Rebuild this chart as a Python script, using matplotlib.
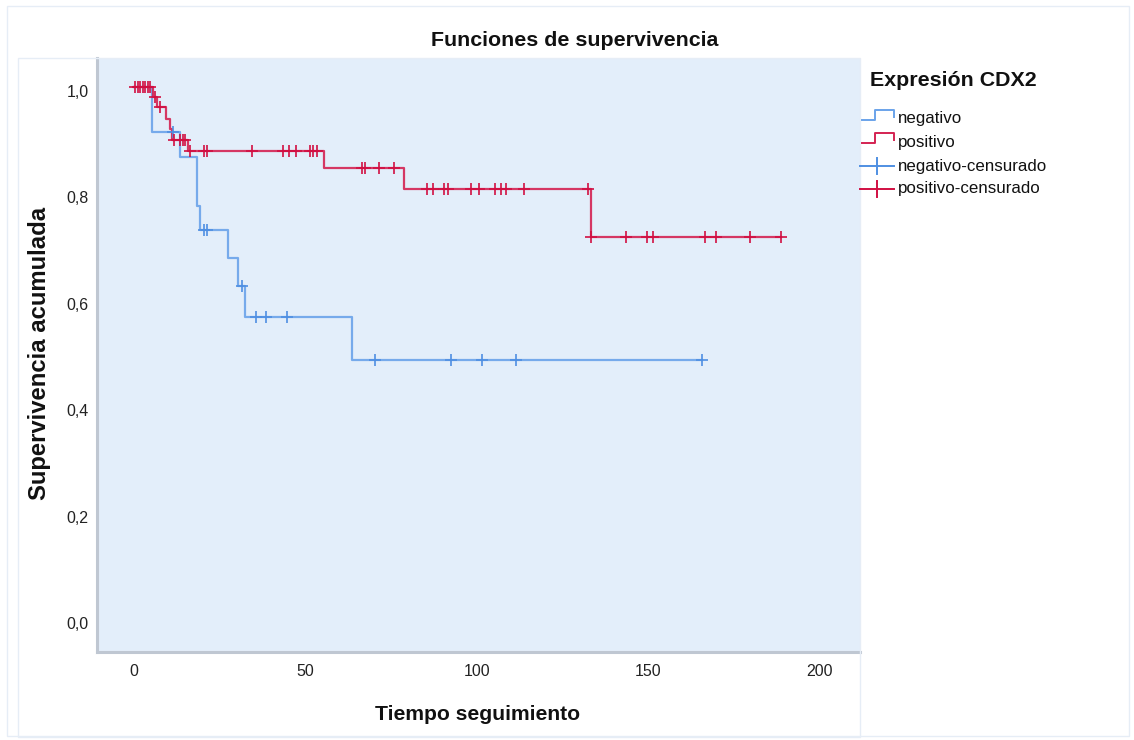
import numpy as np
import matplotlib
matplotlib.use("Agg")
import matplotlib.pyplot as plt
from matplotlib.lines import Line2D
from matplotlib.patches import Rectangle
import matplotlib.transforms as mtransforms

# Kaplan-Meier steps
neg_times = [0, 5.3, 13.4, 18.5, 19.3, 27.5, 30.4, 32.4, 63.6]
neg_surv = [1.0, 0.915, 0.868, 0.776, 0.731, 0.678, 0.626, 0.568, 0.487]
neg_end = 165.5
neg_cens = [11.5, 20.4, 21.2, 31.4, 35.6, 38.5, 44.6, 70.4, 92.5, 101.5, 111.4, 165.5]

pos_times = [0, 5.6, 6.8, 9.4, 10.4, 11.1, 15.6, 55.5, 78.6, 133.4]
pos_surv = [1.0, 0.981, 0.962, 0.940, 0.920, 0.900, 0.879, 0.847, 0.807, 0.717]
pos_end = 188.6
pos_cens = [0.3, 1.1, 1.8, 2.6, 3.2, 4.0, 4.7, 6.2, 7.7, 11.6, 13.4, 14.3, 15.0,
            16.4, 20.4, 21.2, 34.5, 43.3, 45.3, 47.2, 51.4, 52.3, 53.3,
            66.4, 67.4, 71.3, 75.7, 85.3, 87.1, 90.5, 91.5, 98.2, 100.5,
            105.4, 107.1, 108.6, 113.6, 132.5, 133.4, 143.5, 149.5, 151.4,
            166.5, 169.6, 179.6, 188.6]

y_ticks = [0.0, 0.2, 0.4, 0.6, 0.8, 1.0]
x_ticks = [0, 50, 100, 150, 200]

groups = [
    ("negativo", neg_times, neg_surv, neg_end, neg_cens, "#6AA3EA", "#4F8FE2"),
    ("positivo", pos_times, pos_surv, pos_end, pos_cens, "#D42352", "#D10F42"),
]

W, H = 1134, 740
narrow = ["Liberation Sans Narrow", "Liberation Sans", "DejaVu Sans"]
sans = ["Liberation Sans", "DejaVu Sans"]


def px(x, y):
    return x / W, 1 - y / H


fig = plt.figure(figsize=(W / 100, H / 100), dpi=100)
fig.patch.set_facecolor("white")
ax = fig.add_axes([97 / W, 1 - 652 / H, (860 - 97) / W, (652 - 58) / H])
ax.set_facecolor("#E3EEFA")

for name, t, s, t_end, cens, lc, mc in groups:
    tt = list(t) + [t_end]
    ss = list(s) + [s[-1]]
    ax.step(tt, ss, where="post", color=lc, lw=1.6, alpha=0.9, zorder=3)
    idx = np.searchsorted(np.array(t), np.array(cens), side="right") - 1
    cy = np.array(s)[idx]
    ax.plot(cens, cy, ls="none", marker="+", ms=8, mew=1.2, color=mc, zorder=4)

ax.set_xlim(-10.8, 211.7)
ax.set_ylim(-0.062, 1.054)
ax.set_xticks(x_ticks)
ax.set_xticklabels([str(v) for v in x_ticks])
ax.set_yticks(y_ticks)
ax.set_yticklabels([f"{v:.1f}".replace(".", ",") for v in y_ticks])
ax.tick_params(length=0, labelsize=11.5, colors="#222222")
ax.tick_params(axis="x", pad=9)
ax.tick_params(axis="y", pad=6)
for lbl in ax.get_xticklabels() + ax.get_yticklabels():
    lbl.set_family(narrow)
off = mtransforms.ScaledTranslation(0, -4 / 100, fig.dpi_scale_trans)
for lbl in ax.get_yticklabels():
    lbl.set_transform(lbl.get_transform() + off)

for side in ["top", "right"]:
    ax.spines[side].set_visible(False)
for side in ["left", "bottom"]:
    ax.spines[side].set_color("#BFC7D2")
    ax.spines[side].set_linewidth(2.2)

fig.text(*px(575, 40), "Funciones de supervivencia", ha="center", va="center",
         fontsize=15.4, fontweight="bold", family=sans, color="#111111")
fig.text(*px(478, 714), "Tiempo seguimiento", ha="center", va="center",
         fontsize=15.2, fontweight="bold", family=sans, color="#111111")
fig.text(*px(40, 353), "Supervivencia acumulada", ha="center", va="center",
         rotation=90, fontsize=17.2, fontweight="bold", family=sans, color="#111111")

# legend
fig.text(*px(870, 81), "Expresión CDX2", ha="left", va="center",
         fontsize=15.4, fontweight="bold", family=sans, color="#111111")
legend_rows = [
    ("negativo", 119, "#6AA3EA", "step"),
    ("positivo", 142, "#D42352", "step"),
    ("negativo-censurado", 166, "#4F8FE2", "cross"),
    ("positivo-censurado", 189, "#D10F42", "cross"),
]
for label, yy, col, kind in legend_rows:
    if kind == "step":
        xs = [862, 875, 875, 894, 894]
        ys = [yy + 1, yy + 1, yy - 9, yy - 9, yy - 2]
    else:
        xs = [860, 894]
        ys = [yy, yy]
    fx = [x / W for x in xs]
    fy = [1 - y / H for y in ys]
    fig.add_artist(Line2D(fx, fy, transform=fig.transFigure, color=col, lw=1.4))
    if kind == "cross":
        fig.add_artist(Line2D([877 / W, 877 / W], [1 - (yy - 8) / H, 1 - (yy + 8) / H],
                              transform=fig.transFigure, color=col, lw=1.4))
    fig.text(*px(898, yy), label, ha="left", va="center", fontsize=12.2,
             family=narrow, color="#111111")

# faint frames
fig.add_artist(Rectangle((7 / W, 1 - 736 / H), (1129 - 7) / W, (736 - 6) / H,
                         transform=fig.transFigure, fill=False, ec="#E6EDF6", lw=1))
fig.add_artist(Rectangle((18 / W, 1 - 737 / H), (860 - 18) / W, (737 - 58) / H,
                         transform=fig.transFigure, fill=False, ec="#E6EDF6", lw=1))

fig.savefig("out.png", dpi=100, facecolor="white")
